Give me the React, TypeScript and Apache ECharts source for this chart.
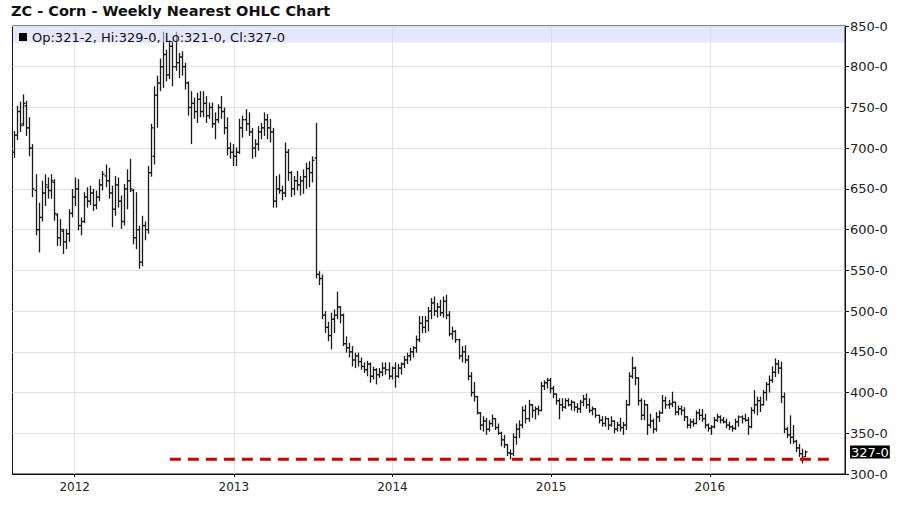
import { useEffect, useRef } from 'react';
import * as echarts from 'echarts';

// ---- axis / annotation settings ----
const TITLE = 'ZC - Corn - Weekly Nearest OHLC Chart';
const FIRST_WEEK = '2011-08-15';
const X_MIN = '2011-08-11';
const X_MAX = '2016-11-07';
const YEAR_TICKS = ['2012-01-01', '2013-01-01', '2014-01-01', '2015-01-01', '2016-01-01'];
const Y_MIN = 300;
const Y_MAX = 850;
const Y_STEP = 50;
const SUPPORT_LEVEL = 318;
const SUPPORT_FROM = '2012-08-07';
const SUPPORT_TO = '2016-10-01';

// ---- weekly bars [open, high, low, close] ----
const ohlc2011 = [
  [695, 721, 688, 716], [716, 752, 710, 745], [745, 757, 720, 728], [730, 766, 727, 755], [752, 758, 715, 725],
  [725, 738, 690, 700], [700, 705, 640, 650], [648, 668, 593, 600], [600, 633, 572, 615], [615, 660, 610, 645],
  [645, 668, 629, 655], [652, 664, 638, 648], [648, 668, 638, 660], [658, 662, 611, 620], [618, 620, 580, 590],
  [590, 613, 580, 600], [598, 601, 570, 585], [585, 601, 576, 595], [595, 625, 585, 620], [620, 650, 615, 640],
];
const ohlc2012 = [
  [640, 664, 629, 650], [650, 662, 599, 605], [605, 615, 593, 610], [610, 646, 608, 640], [640, 652, 627, 635],
  [635, 654, 630, 645], [645, 650, 623, 630], [630, 648, 625, 640], [640, 662, 635, 655], [655, 672, 648, 668],
  [666, 680, 652, 660], [660, 676, 638, 645], [645, 654, 603, 625], [625, 666, 617, 655], [655, 664, 627, 635],
  [635, 642, 601, 610], [610, 656, 605, 650], [650, 674, 625, 660], [660, 687, 646, 650], [648, 650, 582, 590],
  [590, 646, 576, 600], [600, 605, 552, 560], [560, 617, 555, 605], [605, 610, 587, 600], [600, 678, 595, 670],
  [670, 730, 665, 725], [690, 776, 680, 765], [765, 789, 725, 780], [780, 810, 770, 800], [800, 843, 774, 815],
  [815, 821, 782, 790], [790, 833, 785, 825], [825, 831, 776, 800], [800, 843, 795, 805], [805, 817, 786, 812],
  [812, 819, 789, 800], [800, 805, 772, 780], [780, 782, 740, 750], [750, 770, 705, 755], [755, 762, 736, 745],
  [745, 768, 731, 760], [760, 770, 738, 745], [745, 770, 738, 755], [755, 764, 731, 740], [740, 756, 736, 750],
  [750, 756, 725, 730], [730, 744, 711, 735], [735, 754, 731, 750], [750, 764, 736, 745], [745, 750, 717, 725],
  [725, 738, 691, 700], [700, 707, 687, 695],
];
const ohlc2013 = [
  [695, 705, 678, 690], [690, 701, 678, 695], [695, 736, 693, 725], [725, 740, 713, 735], [735, 748, 721, 730],
  [730, 744, 715, 720], [720, 725, 687, 700], [700, 711, 689, 705], [705, 727, 697, 720], [720, 731, 711, 725],
  [725, 744, 715, 735], [735, 742, 711, 725], [725, 736, 707, 720], [720, 725, 627, 635], [635, 666, 627, 650],
  [650, 668, 644, 648], [648, 654, 636, 645], [645, 707, 640, 695], [695, 699, 660, 670], [670, 672, 640, 650],
  [650, 666, 642, 660], [660, 672, 648, 655], [655, 666, 642, 660], [660, 674, 644, 665], [665, 682, 650, 675],
  [675, 684, 652, 670], [670, 690, 658, 685], [688, 731, 540, 545], [545, 549, 532, 540], [540, 545, 490, 495],
  [495, 500, 473, 480], [480, 487, 463, 470], [470, 498, 453, 490], [490, 502, 473, 495], [495, 524, 490, 505],
  [505, 506, 485, 495], [495, 497, 457, 460], [460, 469, 449, 455], [455, 461, 443, 450], [450, 457, 432, 440],
  [440, 449, 430, 445], [445, 449, 432, 438], [438, 443, 428, 432], [432, 437, 424, 428], [428, 439, 420, 435],
  [435, 437, 412, 420], [420, 432, 416, 428], [428, 430, 410, 422], [422, 430, 418, 425], [425, 437, 420, 430],
  [430, 437, 422, 428], [428, 437, 416, 420],
];
const ohlc2014 = [
  [420, 432, 416, 430], [430, 437, 406, 420], [420, 435, 418, 430], [430, 437, 422, 435], [435, 445, 430, 440],
  [440, 449, 435, 445], [445, 455, 439, 450], [450, 457, 443, 455], [455, 470, 449, 465], [465, 494, 462, 485],
  [485, 494, 473, 480], [480, 494, 473, 488], [488, 505, 475, 500], [500, 516, 490, 510], [510, 518, 494, 500],
  [500, 510, 492, 505], [505, 514, 494, 498], [498, 518, 492, 512], [512, 520, 490, 495], [495, 500, 469, 472],
  [472, 481, 465, 475], [475, 477, 461, 465], [465, 466, 441, 445], [445, 457, 437, 450], [450, 458, 436, 440],
  [440, 446, 415, 420], [420, 425, 395, 400], [400, 413, 389, 395], [395, 396, 373, 375], [375, 376, 354, 360],
  [360, 371, 352, 365], [365, 369, 348, 355], [355, 366, 352, 362], [362, 373, 358, 368], [368, 369, 354, 357],
  [357, 362, 348, 350], [350, 352, 334, 342], [342, 348, 332, 336], [336, 337, 322, 326], [326, 330, 318, 325],
  [325, 350, 322, 345], [345, 362, 336, 355], [355, 366, 344, 360], [360, 383, 356, 378], [378, 385, 362, 368],
  [368, 391, 364, 385], [385, 386, 369, 378], [378, 383, 367, 380], [380, 384, 372, 378], [378, 413, 377, 408],
  [408, 415, 403, 412], [412, 418, 405, 415],
];
const ohlc2015 = [
  [415, 418, 399, 405], [405, 408, 393, 398], [398, 399, 385, 390], [390, 393, 367, 385], [385, 393, 377, 382],
  [382, 393, 380, 390], [390, 393, 383, 385], [385, 391, 378, 388], [388, 389, 377, 382], [382, 387, 375, 380],
  [380, 391, 375, 388], [388, 397, 383, 392], [392, 399, 380, 385], [385, 393, 375, 378], [378, 383, 372, 380],
  [380, 381, 369, 372], [372, 373, 362, 366], [366, 371, 358, 362], [362, 371, 358, 368], [368, 369, 354, 360],
  [360, 371, 358, 365], [365, 366, 350, 355], [355, 364, 352, 360], [360, 369, 352, 357], [357, 364, 348, 360],
  [360, 391, 354, 385], [385, 425, 384, 420], [420, 444, 417, 430], [430, 432, 409, 418], [418, 419, 384, 390],
  [390, 393, 366, 372], [372, 391, 366, 385], [385, 386, 348, 360], [360, 374, 356, 365], [365, 368, 350, 355],
  [355, 376, 352, 370], [370, 378, 364, 375], [375, 397, 374, 390], [390, 395, 380, 385], [385, 391, 380, 386],
  [386, 401, 382, 388], [388, 389, 372, 376], [376, 384, 372, 380], [380, 384, 372, 378], [378, 382, 365, 370],
  [370, 371, 356, 360], [360, 368, 356, 364], [364, 368, 358, 362], [362, 378, 361, 375], [375, 380, 366, 372],
  [372, 380, 364, 368], [368, 374, 356, 360],
];
const ohlc2016 = [
  [360, 362, 352, 356], [356, 360, 348, 358], [358, 370, 356, 366], [366, 374, 364, 370], [370, 372, 362, 366],
  [366, 370, 362, 364], [364, 368, 356, 360], [360, 364, 354, 358], [358, 360, 352, 356], [356, 368, 354, 364],
  [364, 372, 358, 370], [370, 372, 362, 368], [368, 374, 364, 366], [366, 370, 348, 358], [358, 382, 356, 378],
  [378, 403, 374, 385], [385, 395, 372, 390], [390, 395, 376, 385], [385, 403, 384, 400], [400, 413, 390, 410],
  [410, 421, 400, 415], [415, 432, 412, 425], [425, 442, 419, 435], [435, 440, 423, 430], [430, 438, 387, 395],
  [395, 400, 350, 355], [355, 358, 344, 348], [348, 372, 337, 345], [345, 360, 337, 340], [340, 342, 327, 332],
  [332, 337, 321, 325], [325, 331, 313, 318], [321.25, 329, 321, 327],
];

const FONT = 'DejaVu Sans';
const DAY = 86400000;
const ts = (s: string) => new Date(s + 'T00:00:00').getTime();
const fmtPrice = (v: number) => `${Math.floor(v)}-${Math.round((v - Math.floor(v)) * 8)}`;

export default function App() {
  const ref = useRef<HTMLDivElement>(null);
  useEffect(() => {
    if (!ref.current) return;
    const chart = echarts.init(ref.current, null, { renderer: 'svg' });
    const allBars = [...ohlc2011, ...ohlc2012, ...ohlc2013, ...ohlc2014, ...ohlc2015, ...ohlc2016];
    const start = ts(FIRST_WEEK);
    const data = allBars.map((b, i) => [start + i * 7 * DAY, b[0], b[1], b[2], b[3]]);
    const last = allBars[allBars.length - 1];
    const yearTicks = YEAR_TICKS.map(ts);
    const legendText = `Op:${fmtPrice(last[0])}, Hi:${fmtPrice(last[1])}, Lo:${fmtPrice(last[2])}, Cl:${fmtPrice(last[3])}`;

    const option: any = {
      animation: false,
      backgroundColor: '#ffffff',
      title: {
        text: TITLE,
        left: 11,
        top: 3,
        padding: 0,
        textStyle: { fontFamily: FONT, fontSize: 14.5, fontWeight: 'bold', color: '#111' },
      },
      grid: {
        left: 12.5,
        right: 54,
        top: 26,
        bottom: 54,
        show: true,
        borderColor: '#111',
        borderWidth: 1,
        backgroundColor: 'transparent',
      },
      xAxis: {
        type: 'value',
        min: ts(X_MIN),
        max: ts(X_MAX),
        axisLine: { show: true, lineStyle: { color: '#111', width: 1 } },
        axisTick: { show: true, customValues: yearTicks, length: 3, lineStyle: { color: '#111' } },
        axisLabel: {
          customValues: yearTicks,
          formatter: (v: number) => String(new Date(v).getFullYear()),
          fontFamily: FONT,
          fontSize: 12,
          color: '#222',
          margin: 7,
        },
        splitLine: { show: false },
      },
      yAxis: {
        type: 'value',
        position: 'right',
        min: Y_MIN,
        max: Y_MAX,
        interval: Y_STEP,
        axisLine: { show: true, lineStyle: { color: '#111', width: 1 } },
        axisTick: { show: true, length: 4, lineStyle: { color: '#111' } },
        axisLabel: {
          formatter: (v: number) => `${v}-0`,
          fontFamily: FONT,
          fontSize: 13,
          color: '#222',
          margin: 5,
        },
        splitLine: { show: true, lineStyle: { color: '#e2e2e2', width: 1 } },
      },
      graphic: [
        {
          type: 'rect',
          z: 50,
          shape: { x: 13, y: 26.5, width: 831, height: 16 },
          style: { fill: 'rgba(213,213,250,0.6)' },
          silent: true,
        },
        {
          type: 'rect',
          z: 60,
          shape: { x: 19, y: 33, width: 8, height: 8 },
          style: { fill: '#000' },
          silent: true,
        },
        {
          type: 'text',
          z: 60,
          x: 32,
          y: 37,
          style: {
            text: legendText,
            font: `13px "${FONT}"`,
            fill: '#111',
            verticalAlign: 'middle',
          },
          silent: true,
        },
      ],
      series: [
        {
          type: 'line',
          name: 'YearGrid',
          data: [],
          z: 1,
          silent: true,
          markLine: {
            silent: true,
            symbol: ['none', 'none'],
            label: { show: false },
            lineStyle: { color: '#e2e2e2', width: 1, type: 'solid' },
            data: yearTicks.map((t) => ({ xAxis: t })),
          },
        },
        {
          type: 'custom',
          name: 'ZC',
          data,
          encode: { x: 0, y: [1, 2, 3, 4] },
          clip: true,
          z: 10,
          renderItem: (params: any, api: any) => {
            const t = api.value(0);
            const o = api.coord([t, api.value(1)]);
            const h = api.coord([t, api.value(2)]);
            const l = api.coord([t, api.value(3)]);
            const c = api.coord([t, api.value(4)]);
            const x = Math.round(h[0]) + 0.5;
            const style = { stroke: '#1a1a1a', lineWidth: 1.3 };
            return {
              type: 'group',
              children: [
                { type: 'line', shape: { x1: x, y1: h[1], x2: x, y2: l[1] }, style },
                { type: 'line', shape: { x1: x - 2, y1: o[1], x2: x, y2: o[1] }, style },
                { type: 'line', shape: { x1: x, y1: c[1], x2: x + 2, y2: c[1] }, style },
              ],
            };
          },
        },
        {
          type: 'line',
          name: 'Support',
          data: [
            [ts(SUPPORT_FROM), SUPPORT_LEVEL],
            [ts(SUPPORT_TO), SUPPORT_LEVEL],
          ],
          symbol: 'none',
          z: 20,
          lineStyle: { color: '#d40000', width: 3, type: [11, 7] },
        },
        {
          type: 'line',
          name: 'LastPrice',
          data: [],
          z: 30,
          markLine: {
            silent: true,
            symbol: ['none', 'none'],
            data: [{ yAxis: last[3] }],
            lineStyle: { color: 'rgba(0,0,0,0)', width: 0 },
            label: {
              show: true,
              position: 'end',
              distance: 5,
              formatter: () => fmtPrice(last[3]),
              backgroundColor: '#000',
              color: '#fff',
              fontFamily: FONT,
              fontSize: 13,
              padding: [0, 1, 0, 1],
            },
          },
        },
      ],
    };
    chart.setOption(option);
    return () => chart.dispose();
  }, []);
  return <div ref={ref} style={{ position: 'absolute', left: 0, top: 0, width: 899, height: 528 }} />;
}
